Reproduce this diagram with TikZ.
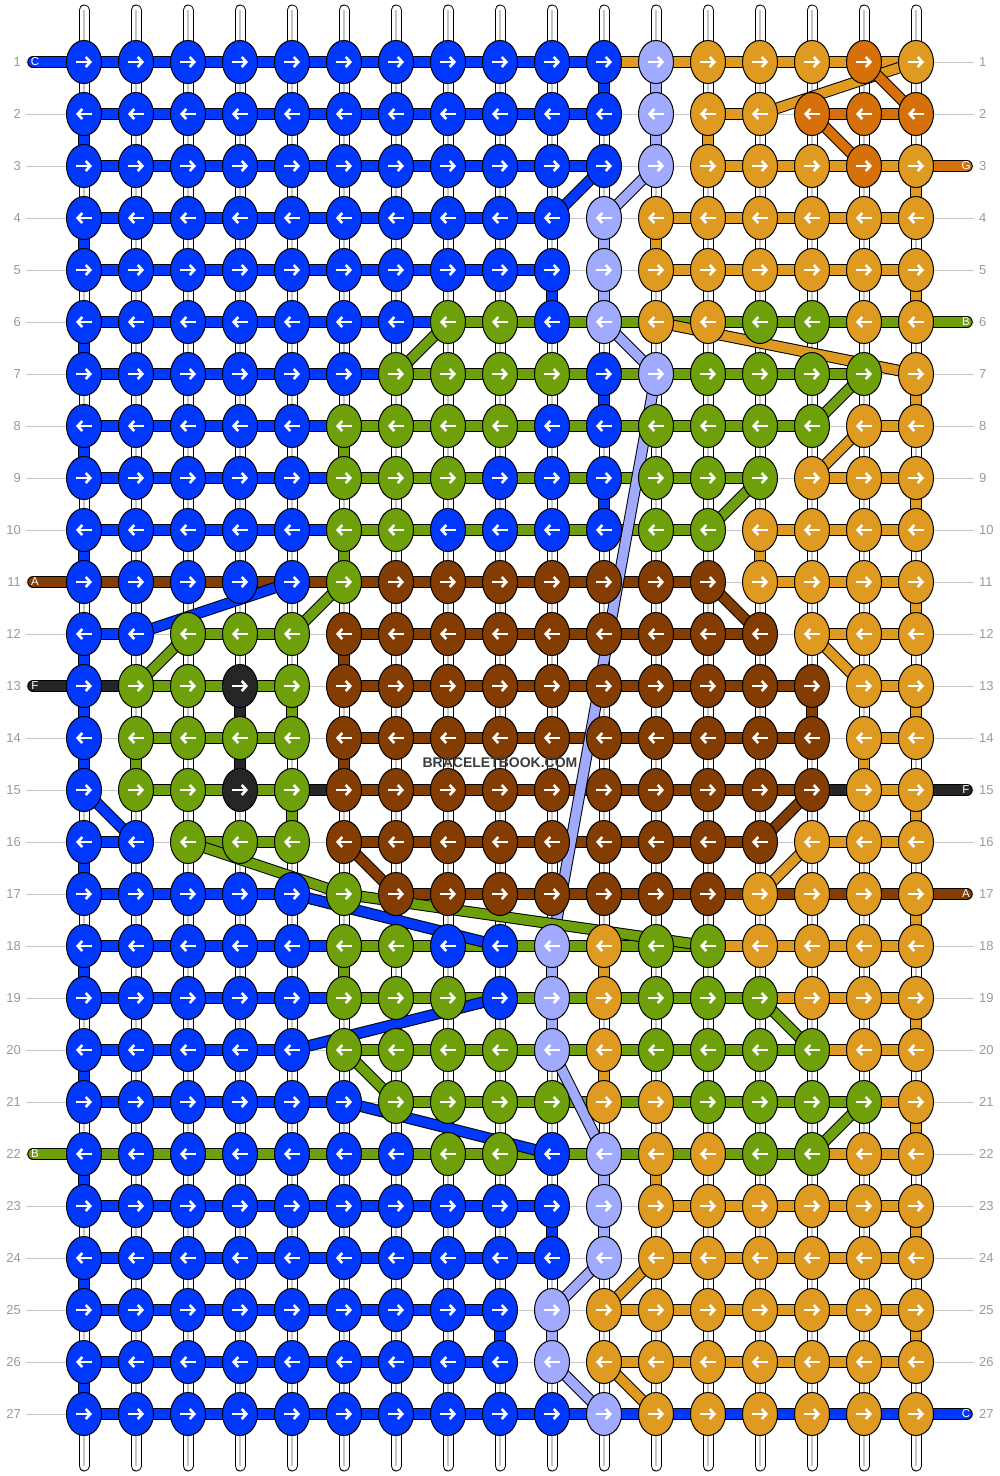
\documentclass[tikz,border=0pt]{standalone}
\usepackage{fontspec}
\setmainfont{Liberation Sans}
\usetikzlibrary{shapes.geometric,arrows.meta}
\definecolor{B}{HTML}{0038FF}
\definecolor{L}{HTML}{A0AAFF}
\definecolor{O}{HTML}{DF9A22}
\definecolor{D}{HTML}{D5700A}
\definecolor{G}{HTML}{6EA00C}
\definecolor{N}{HTML}{833C02}
\definecolor{K}{HTML}{262626}
\definecolor{guidegrey}{HTML}{C4C4C4}
\definecolor{labelgrey}{HTML}{9A9A9A}
\definecolor{markgrey}{HTML}{3C3C3C}
\newcommand\hseg[2]{\foreach \g [count=\i] in {#2}{\if\g X\else\pgfmathtruncatemacro\j{\i+1}\draw[str=\g] (p\i-#1) -- (p\j-#1);\fi}}
\newcommand\krow[2]{\foreach \k [count=\c] in {#2}{\node[knot=\k] (k\c-#1) at (p\c-#1) {};
  \ifodd#1 \draw[arrR] ([xshift=-8pt]k\c-#1.center) -- ([xshift=8pt]k\c-#1.center);
  \else \draw[arrL] ([xshift=-8pt]k\c-#1.center) -- ([xshift=8pt]k\c-#1.center);\fi}}
\begin{document}
\begin{tikzpicture}[x=1pt,y=-1pt,
  str/.style={draw=#1, line width=9.5pt, preaction={draw=black, line width=11.5pt}},
  lead/.style={draw=#1, line width=9.5pt, line cap=round, preaction={draw=black, line width=11.5pt, line cap=round}},
  knot/.style={ellipse, draw=black, line width=1pt, fill=#1, minimum width=35pt, minimum height=43pt, inner sep=0pt},
  arrR/.style={draw=white, line width=2.6pt, -{Straight Barb[length=4.5pt,width=10pt]}},
  arrL/.style={draw=white, line width=2.6pt, {Straight Barb[length=4.5pt,width=10pt]}-},
  guide/.style={draw=guidegrey, line width=1pt},
  rowlabel/.style={text=labelgrey, font=\fontsize{13}{15}\selectfont, inner sep=0pt},
  leadtext/.style={text=white, font=\fontsize{11.5}{13}\selectfont, inner sep=0pt}
]
\useasboundingbox (0,0) rectangle (1000,1476);
\fill[white] (0,0) rectangle (1000,1476);
\foreach \c in {1,...,17}{\foreach \r in {1,...,27}{\coordinate (p\c-\r) at ({84+52*(\c-1)},{62+52*(\r-1)});}}
% row guides
\foreach \r in {1,...,27}{
  \coordinate (gl\r) at (26,{62+52*(\r-1)});
  \coordinate (gr\r) at (974,{62+52*(\r-1)});
  \draw[guide] (gl\r) -- (gr\r);
}
% vertical base strings
\foreach \c in {1,...,17}{
  \coordinate (top\c) at ({84+52*(\c-1)},10);
  \coordinate (bot\c) at ({84+52*(\c-1)},1466);
  \draw[line width=11pt, black, line cap=round] (top\c) -- (bot\c);
  \draw[line width=9pt, white, line cap=round] (top\c) -- (bot\c);
  \draw[line width=1.2pt, guidegrey] (top\c) -- (bot\c);
}
% coloured vertical pieces
\foreach \c/\r/\k in {1/2/B,1/4/B,1/6/B,1/8/B,1/10/B,1/12/B,1/13/B,1/14/B,1/16/B,1/18/B,1/20/B,1/22/B,1/24/B,1/26/B,
  17/3/O,17/5/O,17/7/O,17/9/O,17/11/O,17/13/O,17/15/O,17/17/O,17/19/O,17/21/O,17/23/O,17/25/O,16/14/O,
  11/1/B,11/4/L,11/5/L,11/7/B,11/9/B,11/18/O,11/20/O,11/22/L,11/23/L,
  12/1/L,12/2/L,12/4/O,12/22/O,13/2/O,
  10/5/B,10/18/L,10/19/L,10/23/B,10/25/L,9/25/B,
  6/8/G,6/10/G,6/12/N,6/14/N,6/18/G,4/13/K,4/14/K,5/13/G,5/15/G,2/14/G,14/10/O,15/13/N}{
  \pgfmathtruncatemacro\rr{\r+1}
  \draw[str=\k] (p\c-\r) -- (p\c-\rr);
}
% horizontal pieces
\hseg{1}{B,B,B,B,B,B,B,B,B,B,O,O,O,O,O,O}
\hseg{2}{B,B,B,B,B,B,B,B,B,B,X,X,O,X,D,D}
\hseg{3}{B,B,B,B,B,B,B,B,B,B,X,X,O,O,O,O}
\hseg{4}{B,B,B,B,B,B,B,B,B,X,X,O,O,O,O,O}
\hseg{5}{B,B,B,B,B,B,B,B,B,X,X,O,O,O,O,O}
\hseg{6}{B,B,B,B,B,B,B,G,G,G,G,G,G,G,G,G}
\hseg{7}{B,B,B,B,B,B,G,G,G,G,G,G,G,G,G,X}
\hseg{8}{B,B,B,B,B,G,G,G,G,G,G,G,G,G,X,O}
\hseg{9}{B,B,B,B,B,G,G,G,G,G,G,G,G,X,O,O}
\hseg{10}{B,B,B,B,B,G,G,G,G,G,G,G,X,O,O,O}
\hseg{11}{N,N,N,N,N,N,N,N,N,N,N,N,X,O,O,O}
\hseg{12}{B,X,G,G,X,N,N,N,N,N,N,N,N,X,O,O}
\hseg{13}{K,G,G,G,X,N,N,N,N,N,N,N,N,N,X,O}
\hseg{14}{X,G,G,G,X,N,N,N,N,N,N,N,N,N,X,O}
\hseg{15}{X,G,G,G,K,N,N,N,N,N,N,N,N,N,K,O}
\hseg{16}{B,X,G,G,X,N,N,N,N,N,N,N,N,X,O,O}
\hseg{17}{B,B,B,B,X,X,N,N,N,N,N,N,N,N,N,N}
\hseg{18}{B,B,B,B,B,G,G,G,G,G,G,G,O,O,O,O}
\hseg{19}{B,B,B,B,B,G,G,G,G,G,G,G,G,O,O,O}
\hseg{20}{B,B,B,B,X,G,G,G,G,G,G,G,G,G,O,O}
\hseg{21}{B,B,B,B,B,X,G,G,G,G,G,G,G,G,G,O}
\hseg{22}{G,G,G,G,G,G,G,G,G,G,G,G,G,G,O,O}
\hseg{23}{B,B,B,B,B,B,B,B,B,X,X,O,O,O,O,O}
\hseg{24}{B,B,B,B,B,B,B,B,B,X,X,O,O,O,O,O}
\hseg{25}{B,B,B,B,B,B,B,B,X,X,O,O,O,O,O,O}
\hseg{26}{B,B,B,B,B,B,B,B,X,X,O,O,O,O,O,O}
\hseg{27}{B,B,B,B,B,B,B,B,B,B,B,B,B,B,B,B}
% leads
\coordinate (la1) at (33,62);   \draw[lead=B] (la1) -- (p1-1);
\coordinate (la11) at (33,582); \draw[lead=N] (la11) -- (p1-11);
\coordinate (la13) at (33,686); \draw[lead=K] (la13) -- (p1-13);
\coordinate (la22) at (33,1154); \draw[lead=G] (la22) -- (p1-22);
\coordinate (ra3) at (967,166);  \draw[lead=D] (p17-3) -- (ra3);
\coordinate (ra6) at (967,322);  \draw[lead=G] (p17-6) -- (ra6);
\coordinate (ra15) at (967,790); \draw[lead=K] (p17-15) -- (ra15);
\coordinate (ra17) at (967,894); \draw[lead=N] (p17-17) -- (ra17);
\coordinate (ra27) at (967,1414); \draw[lead=B] (p17-27) -- (ra27);
% diagonal pieces
\foreach \a/\b/\cc/\d/\k in {17/1/14/2/O,16/1/17/2/D,15/2/16/3/D,11/3/10/4/B,12/3/11/4/L,
  8/6/7/7/G,11/6/12/7/L,12/6/17/7/O,12/7/10/18/L,16/7/15/8/G,16/8/15/9/O,14/9/13/10/G,
  13/11/14/12/N,2/12/5/11/B,5/12/6/11/G,2/13/3/12/G,15/12/16/13/O,1/15/2/16/B,
  15/15/14/16/N,15/16/14/17/O,6/16/7/17/N,3/16/6/17/G,6/17/13/18/G,5/17/9/18/B,
  5/20/9/19/B,6/20/7/21/G,14/19/15/20/G,10/20/11/22/L,6/21/10/22/B,16/21/15/22/G,
  11/24/10/25/L,12/24/11/25/O,10/26/11/27/L,11/26/12/27/O}{
  \draw[str=\k] (p\a-\b) -- (p\cc-\d);
}
% knots
\krow{1}{B,B,B,B,B,B,B,B,B,B,B,L,O,O,O,D,O}
\krow{2}{B,B,B,B,B,B,B,B,B,B,B,L,O,O,D,D,D}
\krow{3}{B,B,B,B,B,B,B,B,B,B,B,L,O,O,O,D,O}
\krow{4}{B,B,B,B,B,B,B,B,B,B,L,O,O,O,O,O,O}
\krow{5}{B,B,B,B,B,B,B,B,B,B,L,O,O,O,O,O,O}
\krow{6}{B,B,B,B,B,B,B,G,G,B,L,O,O,G,G,O,O}
\krow{7}{B,B,B,B,B,B,G,G,G,G,B,L,G,G,G,G,O}
\krow{8}{B,B,B,B,B,G,G,G,G,B,B,G,G,G,G,O,O}
\krow{9}{B,B,B,B,B,G,G,G,B,B,B,G,G,G,O,O,O}
\krow{10}{B,B,B,B,B,G,G,B,B,B,B,G,G,O,O,O,O}
\krow{11}{B,B,B,B,B,G,N,N,N,N,N,N,N,O,O,O,O}
\krow{12}{B,B,G,G,G,N,N,N,N,N,N,N,N,N,O,O,O}
\krow{13}{B,G,G,K,G,N,N,N,N,N,N,N,N,N,N,O,O}
\krow{14}{B,G,G,G,G,N,N,N,N,N,N,N,N,N,N,O,O}
\krow{15}{B,G,G,K,G,N,N,N,N,N,N,N,N,N,N,O,O}
\krow{16}{B,B,G,G,G,N,N,N,N,N,N,N,N,N,O,O,O}
\krow{17}{B,B,B,B,B,G,N,N,N,N,N,N,N,O,O,O,O}
\krow{18}{B,B,B,B,B,G,G,B,B,L,O,G,G,O,O,O,O}
\krow{19}{B,B,B,B,B,G,G,G,B,L,O,G,G,G,O,O,O}
\krow{20}{B,B,B,B,B,G,G,G,G,L,O,G,G,G,G,O,O}
\krow{21}{B,B,B,B,B,B,G,G,G,G,O,O,G,G,G,G,O}
\krow{22}{B,B,B,B,B,B,B,G,G,B,L,O,O,G,G,O,O}
\krow{23}{B,B,B,B,B,B,B,B,B,B,L,O,O,O,O,O,O}
\krow{24}{B,B,B,B,B,B,B,B,B,B,L,O,O,O,O,O,O}
\krow{25}{B,B,B,B,B,B,B,B,B,L,O,O,O,O,O,O,O}
\krow{26}{B,B,B,B,B,B,B,B,B,L,O,O,O,O,O,O,O}
\krow{27}{B,B,B,B,B,B,B,B,B,B,L,O,O,O,O,O,O}
% lead letters
\node[leadtext] (lt1) at (35,62) {C};
\node[leadtext] (lt11) at (35,582) {A};
\node[leadtext] (lt13) at (35,686) {F};
\node[leadtext] (lt22) at (35,1154) {B};
\node[leadtext] (rt3) at (966,166) {G};
\node[leadtext] (rt6) at (966,322) {B};
\node[leadtext] (rt15) at (966,790) {F};
\node[leadtext] (rt17) at (966,894) {A};
\node[leadtext] (rt27) at (966,1414) {C};
% row numbers
\foreach \r in {1,...,27}{
  \node[rowlabel, anchor=east] (ln\r) at (21,{62+52*(\r-1)}) {\r};
  \node[rowlabel, anchor=west] (rn\r) at (979,{62+52*(\r-1)}) {\r};
}
\node[text=markgrey, font=\bfseries\fontsize{14}{16}\selectfont, inner sep=0pt] (wm) at (500,763) {BRACELETBOOK.COM};
\end{tikzpicture}
\end{document}
